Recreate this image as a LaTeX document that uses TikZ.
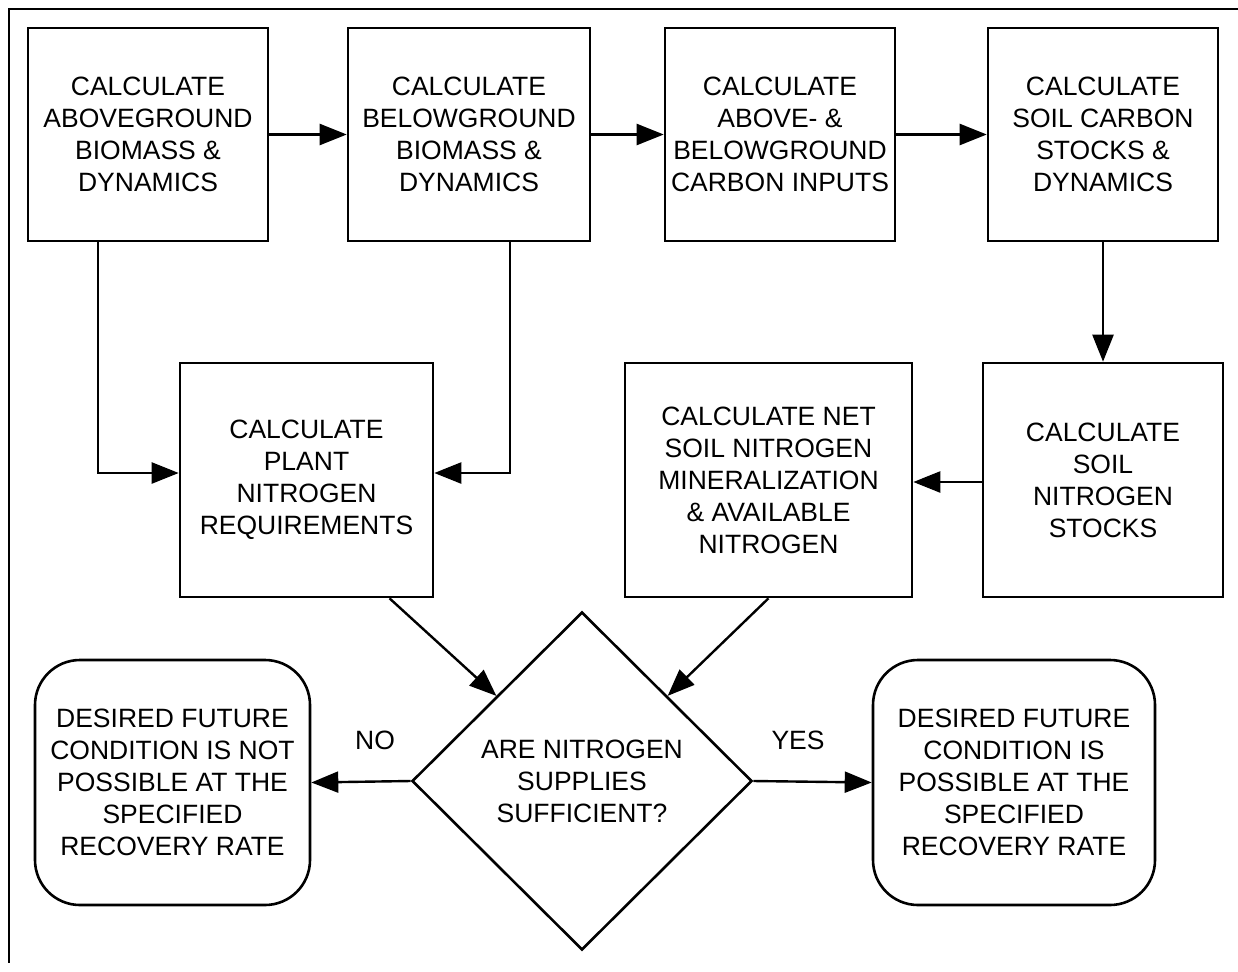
\documentclass[tikz,border=0pt]{standalone}
\usepackage{fontspec}
\setmainfont{Liberation Sans}
\usepackage{tikz}
\usetikzlibrary{arrows.meta,shapes.geometric}

\begin{document}
\begin{tikzpicture}[x=1pt, y=-1pt, font=\fontsize{26.5}{32}\selectfont]
\tikzstyle{box}=[rectangle, draw, line width=2.6pt, align=center, inner sep=0pt]
\tikzstyle{endbox}=[box, rounded corners=45pt, minimum height=245pt]
\tikzstyle{decision}=[diamond, draw, line width=2.6pt, align=center, inner sep=0pt, minimum width=340pt, minimum height=338pt]
\tikzstyle{arr}=[line width=2.4pt, -{Triangle[length=27pt, width=21pt]}]
\useasboundingbox (0,0) rectangle (1238,971);
\draw[line width=2pt] (1238,9) -- (9,9) -- (9,963);

\node[box, minimum width=240pt, minimum height=213pt] (above) at (148,134.5) {CALCULATE\\ABOVEGROUND\\BIOMASS \&\\DYNAMICS};
\node[box, minimum width=242pt, minimum height=213pt] (below) at (469,134.5) {CALCULATE\\BELOWGROUND\\BIOMASS \&\\DYNAMICS};
\node[box, minimum width=230pt, minimum height=213pt] (cin) at (780,134.5) {CALCULATE\\ABOVE- \&\\BELOWGROUND\\CARBON INPUTS};
\node[box, minimum width=230pt, minimum height=213pt] (soilc) at (1103,134.5) {CALCULATE\\SOIL CARBON\\STOCKS \&\\DYNAMICS};

\node[box, minimum width=253pt, minimum height=234pt] (plantn) at (306.5,480) {CALCULATE\\PLANT\\NITROGEN\\REQUIREMENTS};
\node[box, minimum width=287pt, minimum height=234pt] (netmin) at (768.5,480) {CALCULATE NET\\SOIL NITROGEN\\MINERALIZATION\\\& AVAILABLE\\NITROGEN};
\node[box, minimum width=240pt, minimum height=234pt] (soiln) at (1103,480) {CALCULATE\\SOIL\\NITROGEN\\STOCKS};

\node[decision] (enough) at (582,781) {ARE NITROGEN\\SUPPLIES\\SUFFICIENT?};
\node[endbox, minimum width=275pt] (notok) at (172.5,782.5) {DESIRED FUTURE\\CONDITION IS NOT\\POSSIBLE AT THE\\SPECIFIED\\RECOVERY RATE};
\node[endbox, minimum width=282pt] (ok) at (1014,782.5) {DESIRED FUTURE\\CONDITION IS\\POSSIBLE AT THE\\SPECIFIED\\RECOVERY RATE};

\node (no) at (375,740) {NO};
\node (yes) at (798,740) {YES};

\draw[arr] (above) -- (below);
\draw[arr] (below) -- (cin);
\draw[arr] (cin) -- (soilc);
\draw[arr] (soilc) -- (soiln);
\draw[arr] ([yshift=-2pt]soiln.west) -- ([yshift=-2pt]netmin.east);
\draw[arr] ([xshift=-50pt]above.south) |- ([yshift=7pt]plantn.west);
\draw[arr] ([xshift=41pt]below.south) |- ([yshift=7pt]plantn.east);
\draw[arr] ([xshift=83pt]plantn.south) -- (enough.north west);
\draw[arr] (netmin.south) -- (enough.north east);
\draw[arr] (enough.west) -- (notok.east);
\draw[arr] (enough.east) -- (ok.west);

\end{tikzpicture}
\end{document}
